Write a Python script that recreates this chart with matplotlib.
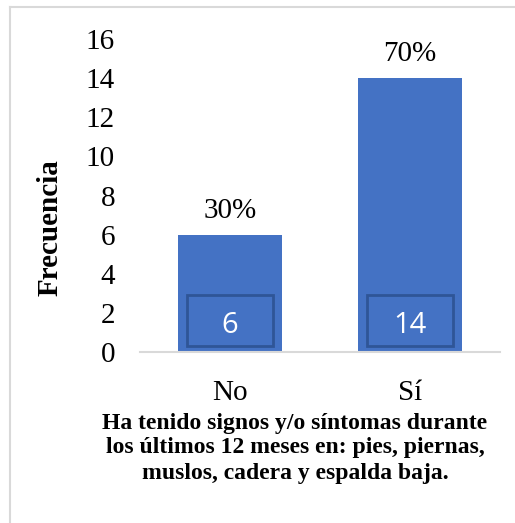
import matplotlib
matplotlib.use("Agg")
import matplotlib.pyplot as plt
from matplotlib.patches import Rectangle
from matplotlib.lines import Line2D

# data
categorias = ["No", "Sí"]
frecuencias = [6, 14]
porcentajes = ["30%", "70%"]
yticks = [0, 2, 4, 6, 8, 10, 12, 14, 16]

plt.rcParams["font.family"] = ["Liberation Serif", "DejaVu Serif"]

fig = plt.figure(figsize=(5.15, 5.23), dpi=100)
ax = fig.add_axes([140/515, 1 - 352/523, 360/515, (352 - 39)/523])

azul = "#4472C4"
borde = "#2F5597"
x = list(range(len(categorias)))
bars = ax.bar(x, frecuencias, width=0.58, color=azul, zorder=2)

# percent labels above bars
for xi, v, p in zip(x, frecuencias, porcentajes):
    ax.annotate(p, (xi, v), xytext=(0, 12), textcoords="offset points",
                ha="center", va="baseline", fontsize=21)

# count labels in boxed area at bar bottom
for xi, v in zip(x, frecuencias):
    ax.add_patch(Rectangle((xi - 0.24, 0.33), 0.48, 2.6, fill=False,
                           edgecolor=borde, linewidth=2, zorder=3))
    ax.text(xi, 1.35, str(v), ha="center", va="center", color="white",
            fontsize=21, family=["Open Sans", "DejaVu Sans"], zorder=4)

ax.set_xlim(-0.5, 1.5)
ax.set_ylim(0, 16)
ax.set_yticks(yticks)
ax.set_xticks(x)
ax.set_xticklabels(categorias)
ax.tick_params(axis="both", length=0, labelsize=21)
ax.tick_params(axis="y", pad=18)
ax.tick_params(axis="x", pad=20)
for s in ["left", "right", "top"]:
    ax.spines[s].set_visible(False)
ax.spines["bottom"].set_color("#D9D9D9")
ax.spines["bottom"].set_linewidth(1.5)

fig.text(50/515, 1 - 228/523, "Frecuencia", rotation=90, ha="center",
         va="center", fontsize=21, fontweight="bold")
fig.text(295/515, 1 - 448/523,
         "Ha tenido signos y/o síntomas durante\nlos últimos 12 meses en: pies, piernas,\nmuslos, cadera y espalda baja.",
         ha="center", va="center", fontsize=17, fontweight="bold",
         linespacing=1.25)

# outer chart border
fig.add_artist(Line2D([10/515, 10/515], [0, 1 - 7/523], color="#D9D9D9",
                      linewidth=1.5, transform=fig.transFigure))
fig.add_artist(Line2D([10/515, 1], [1 - 7/523, 1 - 7/523], color="#D9D9D9",
                      linewidth=1.5, transform=fig.transFigure))

fig.savefig("out.png", dpi=100)
